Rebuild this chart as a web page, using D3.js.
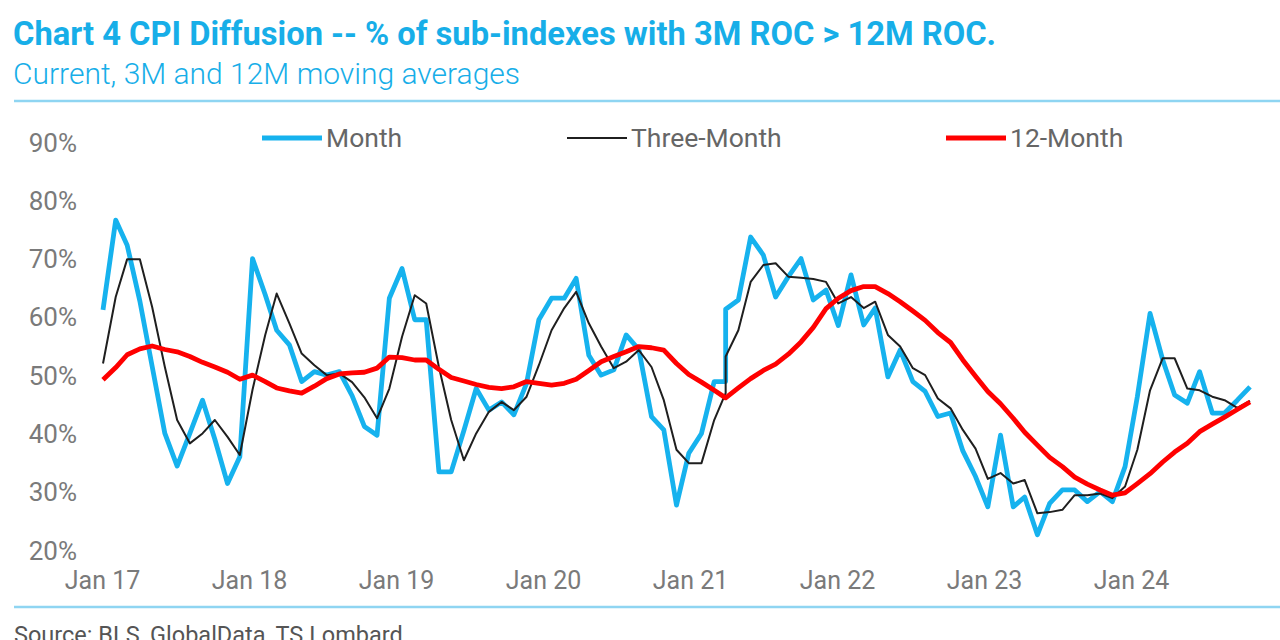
<!DOCTYPE html>
<html>
<head>
<meta charset="utf-8">
<script src="https://cdn.jsdelivr.net/npm/d3@7"></script>
<style>
  html, body { margin: 0; padding: 0; background: #fff; }
  svg { display: block; font-family: Roboto, "Noto Sans", sans-serif; }
</style>
</head>
<body>
<svg id="chart" width="1280" height="640"></svg>
<script>
// ---- Data ----
// Monthly observations Jan 2017 - Sep 2024; Mar 2021 appears twice (series break)
const months = [
  "2017-01","2017-02","2017-03","2017-04","2017-05","2017-06","2017-07","2017-08","2017-09","2017-10","2017-11","2017-12",
  "2018-01","2018-02","2018-03","2018-04","2018-05","2018-06","2018-07","2018-08","2018-09","2018-10","2018-11","2018-12",
  "2019-01","2019-02","2019-03","2019-04","2019-05","2019-06","2019-07","2019-08","2019-09","2019-10","2019-11","2019-12",
  "2020-01","2020-02","2020-03","2020-04","2020-05","2020-06","2020-07","2020-08","2020-09","2020-10","2020-11","2020-12",
  "2021-01","2021-02","2021-03","2021-03","2021-04","2021-05","2021-06","2021-07","2021-08","2021-09","2021-10","2021-11","2021-12",
  "2022-01","2022-02","2022-03","2022-04","2022-05","2022-06","2022-07","2022-08","2022-09","2022-10","2022-11","2022-12",
  "2023-01","2023-02","2023-03","2023-04","2023-05","2023-06","2023-07","2023-08","2023-09","2023-10","2023-11","2023-12",
  "2024-01","2024-02","2024-03","2024-04","2024-05","2024-06","2024-07","2024-08","2024-09"
];

const monthly = [
  61.2,76.6,72.3,62.7,51.5,40.0,34.4,40.0,45.7,39.0,31.4,36.0,
  70.0,63.8,57.7,55.2,48.9,50.6,50.0,50.6,46.5,41.2,39.7,63.2,
  68.3,59.5,59.5,33.4,33.4,40.5,47.7,44.0,45.4,43.2,48.6,59.5,
  63.2,63.2,66.6,53.4,50.0,50.9,56.9,54.4,42.9,40.6,27.7,36.6,
  40.0,48.9,48.9,61.3,62.9,73.7,70.6,63.4,66.9,70.0,62.9,64.6,58.5,
  67.2,58.6,61.5,49.7,54.3,48.9,47.2,42.9,43.5,37.0,32.6,27.4,
  39.7,27.4,29.1,22.6,28.0,30.3,30.3,28.3,30.0,28.3,34.3,46.3,
  60.6,52.6,46.6,45.2,50.6,43.5,43.5,45.7,48.0
];

const threeMonth = [
  52.0,63.4,69.9,69.9,61.7,51.4,42.3,38.3,40.0,42.3,39.4,36.3,
  47.5,56.9,64.0,58.9,53.7,51.7,50.0,50.3,48.8,46.2,42.6,47.7,
  56.6,63.7,62.3,51.4,42.3,35.4,40.0,43.7,45.4,44.0,46.3,51.7,
  57.7,61.5,64.3,58.9,54.9,51.2,52.3,54.3,51.4,45.7,37.2,34.9,
  34.9,42.3,46.9,53.2,57.7,66.0,68.9,69.2,66.9,66.7,66.5,66.0,62.3,
  63.4,61.5,62.6,56.9,54.9,51.2,50.0,46.0,44.3,40.6,37.4,32.2,
  33.2,31.4,32.0,26.3,26.5,26.9,29.4,29.4,29.7,28.9,30.9,37.2,
  47.4,52.9,52.9,47.7,47.4,46.3,45.7,44.4,45.6
];

const twelveMonth = [
  49.2,51.3,53.5,54.5,55.0,54.4,54.0,53.2,52.2,51.4,50.5,49.3,
  50.0,48.9,47.8,47.3,46.9,48.1,49.4,50.2,50.4,50.5,51.2,53.1,
  53.0,52.6,52.6,51.0,49.6,49.0,48.4,47.9,47.7,48.0,48.9,48.6,
  48.3,48.6,49.3,50.8,52.3,53.2,54.0,54.9,54.7,54.3,52.0,50.1,
  48.8,47.4,46.1,46.1,47.8,49.4,50.8,51.9,53.6,55.7,58.2,61.4,63.2,
  64.5,65.2,65.2,64.0,62.6,61.0,59.4,57.3,55.6,52.6,49.8,47.2,
  45.1,42.6,40.2,38.0,35.9,34.3,32.5,31.3,30.3,29.4,29.8,31.4,
  33.1,35.1,36.8,38.3,40.3,41.6,42.8,44.1,45.4
];

const yTicks = [20, 30, 40, 50, 60, 70, 80, 90];
const xLabels = ["Jan 17","Jan 18","Jan 19","Jan 20","Jan 21","Jan 22","Jan 23","Jan 24"];

const seriesNames = ["Month", "Three-Month", "12-Month"];
const seriesColors = ["#16b2ee", "#1f1f1f", "#ff0000"];
const seriesWidths = [4.8, 2, 4.8];

// ---- Drawing ----
const svg = d3.select("#chart");
const parse = d3.timeParse("%Y-%m");
const dates = months.map(parse);

const x = d3.scaleTime()
  .domain([parse("2017-01"), parse("2024-09")])
  .range([103, 1250]);
const y = d3.scaleLinear().domain([20, 90]).range([550, 142]);
const xLab = d3.scalePoint().domain(xLabels).range([102, 1131]);

const titleColor = "#17aee8";

// Title & subtitle
svg.append("text").attr("x", 13).attr("y", 45)
  .attr("fill", titleColor).attr("font-size", 32.7).attr("font-weight", 700)
  .text("Chart 4 CPI Diffusion -- % of sub-indexes with 3M ROC > 12M ROC.");
svg.append("text").attr("x", 13).attr("y", 84)
  .attr("fill", titleColor).attr("font-size", 30).attr("font-weight", 300)
  .text("Current, 3M and 12M moving averages");

// Rules
svg.append("line").attr("x1", 14).attr("x2", 1280).attr("y1", 101).attr("y2", 101)
  .attr("stroke", "#8fd5f2").attr("stroke-width", 2.5);
svg.append("line").attr("x1", 14).attr("x2", 1280).attr("y1", 607).attr("y2", 607)
  .attr("stroke", "#8fd5f2").attr("stroke-width", 2.5);

// Source (cut at the bottom edge, as in the reference)
svg.append("text").attr("x", 14).attr("y", 643)
  .attr("fill", "#555").attr("font-size", 23.5)
  .text("Source: BLS, GlobalData, TS Lombard");

// Y axis
const yAxis = svg.append("g").attr("transform", "translate(77,0)")
  .call(d3.axisLeft(y).tickValues(yTicks).tickSize(0).tickPadding(0)
    .tickFormat(d => d + "%"));
yAxis.select(".domain").remove();
yAxis.selectAll("text").attr("fill", "#7a7a7a").attr("font-size", 26)
  .attr("font-family", "Roboto, sans-serif").attr("dy", "0.35em");

// X axis labels
const xAxis = svg.append("g").attr("transform", "translate(0,570)")
  .call(d3.axisBottom(xLab).tickSize(0).tickPadding(0));
xAxis.select(".domain").remove();
xAxis.selectAll("text").attr("fill", "#7a7a7a").attr("font-size", 25)
  .attr("font-family", "Roboto, sans-serif").attr("dy", "0.75em");

// Lines
const seriesData = [monthly, threeMonth, twelveMonth];
const line = d3.line().x((d, i) => x(dates[i])).y(d => y(d));
[0, 1, 2].forEach(k => {
  svg.append("path")
    .datum(seriesData[k])
    .attr("fill", "none")
    .attr("stroke", seriesColors[k])
    .attr("stroke-width", seriesWidths[k])
    .attr("stroke-linejoin", "round")
    .attr("stroke-linecap", "butt")
    .attr("d", line);
});

// Legend
const legendX = [262, 567, 946];
const leg = svg.append("g");
seriesNames.forEach((name, k) => {
  leg.append("line").attr("x1", legendX[k]).attr("x2", legendX[k] + 60)
    .attr("y1", 138).attr("y2", 138)
    .attr("stroke", seriesColors[k]).attr("stroke-width", seriesWidths[k]);
  leg.append("text").attr("x", legendX[k] + 64).attr("y", 138).attr("dy", "0.35em")
    .attr("fill", "#666").attr("font-size", 26.5).text(name);
});
</script>
</body>
</html>
